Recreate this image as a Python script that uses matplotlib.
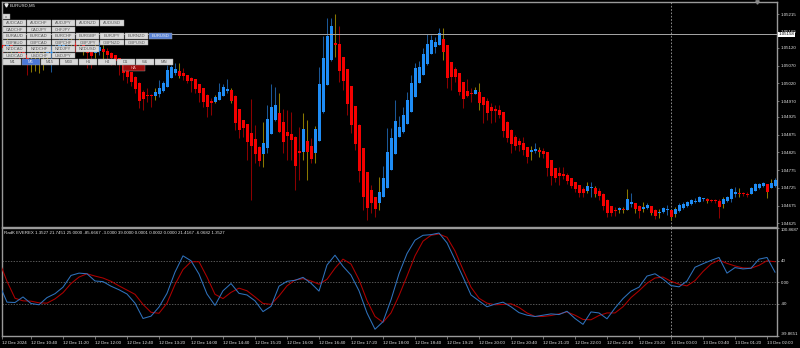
import numpy as np
import matplotlib
matplotlib.use('Agg')
import matplotlib.pyplot as plt
from matplotlib.patches import Rectangle
import matplotlib.transforms as mtransforms

plt.rcParams['font.family'] = ['Liberation Sans', 'DejaVu Sans']

# ---- Heiken Ashi candles, EURUSD M5 (bar 0 = 12 Dec 10:00) ----
ha_open_first = 1.05130
ha_close = [
    1.05128, 1.05119, 1.05131, 1.05114, 1.05108, 1.05100, 1.05091, 1.05086, 1.05097, 1.05091,
    1.05100, 1.05094, 1.05108, 1.05114, 1.05119, 1.05128, 1.05136, 1.05142, 1.05134, 1.05125,
    1.05131, 1.05119, 1.05106, 1.05097, 1.05114, 1.05122, 1.05108, 1.05100, 1.05091, 1.05083,
    1.05072, 1.05049, 1.05038, 1.05024, 1.05004, 1.04970, 1.04976, 1.04984, 1.04984, 1.04996,
    1.05007, 1.05021, 1.05058, 1.05066, 1.05060, 1.05041, 1.05041, 1.05027, 1.05027, 1.05004,
    1.04993, 1.04967, 1.04953, 1.04965, 1.04981, 1.04996, 1.05010, 1.05004, 1.04970, 1.04908,
    1.04888, 1.04894, 1.04855, 1.04843, 1.04821, 1.04801, 1.04852, 1.04919, 1.04953, 1.04959,
    1.04883, 1.04855, 1.04872, 1.04860, 1.04787, 1.04824, 1.04891, 1.04826, 1.04807, 1.04891,
    1.05018, 1.05091, 1.05154, 1.05182, 1.05128, 1.05055, 1.05027, 1.04962, 1.04903, 1.04849,
    1.04773, 1.04700, 1.04668, 1.04683, 1.04666, 1.04714, 1.04753, 1.04826, 1.04866, 1.04914,
    1.04897, 1.04931, 1.04973, 1.05021, 1.05063, 1.05066, 1.05103, 1.05131, 1.05142, 1.05136,
    1.05162, 1.05108, 1.05035, 1.05038, 1.05038, 1.04996, 1.04976, 1.04984, 1.04990, 1.05001,
    1.04965, 1.04959, 1.04936, 1.04942, 1.04942, 1.04931, 1.04886, 1.04866, 1.04849, 1.04843,
    1.04846, 1.04832, 1.04812, 1.04832, 1.04835, 1.04826, 1.04821, 1.04781, 1.04759, 1.04753,
    1.04759, 1.04759, 1.04745, 1.04731, 1.04722, 1.04711, 1.04711, 1.04731, 1.04725, 1.04708,
    1.04702, 1.04674, 1.04654, 1.04654, 1.04660, 1.04668, 1.04663, 1.04694, 1.04685, 1.04666,
    1.04660, 1.04671, 1.04677, 1.04654, 1.04646, 1.04657, 1.04668, 1.04663, 1.04643, 1.04666,
    1.04677, 1.04680, 1.04685, 1.04691, 1.04688, 1.04700, 1.04694, 1.04688, 1.04688, 1.04688,
    1.04671, 1.04694, 1.04700, 1.04722, 1.04714, 1.04708, 1.04708, 1.04705, 1.04725, 1.04736,
    1.04736, 1.04739, 1.04714, 1.04739, 1.04747,
]
ha_high = [
    1.05145, 1.05136, 1.05147, 1.05134, 1.05125, 1.05117, 1.05108, 1.05106, 1.05108, 1.05114,
    1.05117, 1.05111, 1.05122, 1.05128, 1.05136, 1.05145, 1.05153, 1.05159, 1.05150, 1.05142,
    1.05147, 1.05136, 1.05125, 1.05119, 1.05131, 1.05136, 1.05128, 1.05119, 1.05108, 1.05100,
    1.05091, 1.05063, 1.05058, 1.05052, 1.05041, 1.05024, 1.05001, 1.05007, 1.04990, 1.05007,
    1.05029, 1.05027, 1.05072, 1.05072, 1.05078, 1.05078, 1.05063, 1.05044, 1.05038, 1.05032,
    1.05015, 1.05007, 1.04990, 1.04979, 1.04987, 1.05021, 1.05018, 1.05032, 1.05007, 1.04987,
    1.04948, 1.04917, 1.04905, 1.04976, 1.04903, 1.04843, 1.04911, 1.04959, 1.05018, 1.05010,
    1.04993, 1.04948, 1.04945, 1.04939, 1.04872, 1.04897, 1.04936, 1.04917, 1.04866, 1.04900,
    1.05066, 1.05154, 1.05204, 1.05204, 1.05215, 1.05182, 1.05094, 1.05060, 1.05013, 1.04956,
    1.04905, 1.04838, 1.04770, 1.04733, 1.04700, 1.04756, 1.04787, 1.04894, 1.04894, 1.04973,
    1.04928, 1.04953, 1.04996, 1.05044, 1.05078, 1.05083, 1.05119, 1.05159, 1.05156, 1.05150,
    1.05176, 1.05176, 1.05125, 1.05080, 1.05066, 1.05049, 1.05024, 1.05032, 1.05007, 1.05010,
    1.05021, 1.04981, 1.04979, 1.04965, 1.04959, 1.04959, 1.04939, 1.04914, 1.04891, 1.04874,
    1.04866, 1.04869, 1.04840, 1.04843, 1.04852, 1.04840, 1.04838, 1.04826, 1.04804, 1.04781,
    1.04784, 1.04784, 1.04767, 1.04753, 1.04742, 1.04731, 1.04728, 1.04742, 1.04742, 1.04731,
    1.04725, 1.04711, 1.04694, 1.04674, 1.04671, 1.04671, 1.04671, 1.04722, 1.04711, 1.04683,
    1.04677, 1.04685, 1.04683, 1.04671, 1.04666, 1.04666, 1.04671, 1.04677, 1.04660, 1.04671,
    1.04683, 1.04685, 1.04688, 1.04694, 1.04697, 1.04702, 1.04697, 1.04697, 1.04694, 1.04694,
    1.04694, 1.04700, 1.04702, 1.04725, 1.04728, 1.04725, 1.04714, 1.04714, 1.04728, 1.04739,
    1.04739, 1.04742, 1.04733, 1.04750, 1.04753,
]
ha_low = [
    1.05114, 1.05106, 1.05108, 1.05100, 1.05091, 1.05083, 1.05075, 1.05044, 1.05052, 1.05055,
    1.05050, 1.05058, 1.05086, 1.05052, 1.05100, 1.05108, 1.05119, 1.05125, 1.05117, 1.05108,
    1.05114, 1.05100, 1.05063, 1.05063, 1.05091, 1.05100, 1.05078, 1.05086, 1.05072, 1.05072,
    1.05044, 1.05029, 1.05021, 1.05013, 1.04993, 1.04950, 1.04945, 1.04967, 1.04953, 1.04973,
    1.04981, 1.04996, 1.05010, 1.05035, 1.05044, 1.05035, 1.05029, 1.05021, 1.04996, 1.04993,
    1.04967, 1.04953, 1.04925, 1.04931, 1.04965, 1.04973, 1.04984, 1.04993, 1.04965, 1.04888,
    1.04866, 1.04869, 1.04804, 1.04691, 1.04795, 1.04787, 1.04784, 1.04824, 1.04877, 1.04914,
    1.04883, 1.04824, 1.04804, 1.04804, 1.04719, 1.04747, 1.04804, 1.04747, 1.04795, 1.04795,
    1.04857, 1.04936, 1.05015, 1.05083, 1.05094, 1.05024, 1.05001, 1.04931, 1.04880, 1.04832,
    1.04742, 1.04663, 1.04635, 1.04654, 1.04643, 1.04663, 1.04700, 1.04728, 1.04776, 1.04821,
    1.04869, 1.04880, 1.04905, 1.04939, 1.04981, 1.05021, 1.05044, 1.05072, 1.05103, 1.05106,
    1.05131, 1.05086, 1.05007, 1.05001, 1.05024, 1.04987, 1.04950, 1.04981, 1.04967, 1.04990,
    1.04945, 1.04908, 1.04917, 1.04908, 1.04911, 1.04922, 1.04869, 1.04855, 1.04824, 1.04832,
    1.04829, 1.04818, 1.04795, 1.04804, 1.04824, 1.04812, 1.04809, 1.04759, 1.04733, 1.04742,
    1.04733, 1.04750, 1.04736, 1.04725, 1.04714, 1.04700, 1.04700, 1.04711, 1.04700, 1.04700,
    1.04691, 1.04663, 1.04643, 1.04646, 1.04646, 1.04654, 1.04654, 1.04663, 1.04671, 1.04654,
    1.04640, 1.04657, 1.04666, 1.04649, 1.04637, 1.04640, 1.04654, 1.04649, 1.04635, 1.04643,
    1.04657, 1.04666, 1.04671, 1.04677, 1.04683, 1.04685, 1.04688, 1.04683, 1.04685, 1.04683,
    1.04640, 1.04668, 1.04685, 1.04685, 1.04700, 1.04700, 1.04702, 1.04700, 1.04708, 1.04719,
    1.04722, 1.04728, 1.04697, 1.04725, 1.04728,
]

price_ticks = [1.05215, 1.05165, 1.05120, 1.05070, 1.05020, 1.04970, 1.04925,
               1.04875, 1.04825, 1.04775, 1.04725, 1.04675, 1.04625]
price_range = (1.04615, 1.05249)
line_price = 1.05158

time_labels = ['12 Dec 2024', '12 Dec 10:40', '12 Dec 11:20', '12 Dec 12:00', '12 Dec 12:40',
               '12 Dec 13:20', '12 Dec 14:00', '12 Dec 14:40', '12 Dec 15:20', '12 Dec 16:00',
               '12 Dec 16:40', '12 Dec 17:20', '12 Dec 18:00', '12 Dec 18:40', '12 Dec 19:20',
               '12 Dec 20:00', '12 Dec 20:40', '12 Dec 21:20', '12 Dec 22:00', '12 Dec 22:40',
               '12 Dec 23:20', '13 Dec 00:00', '13 Dec 00:40', '13 Dec 01:20', '13 Dec 02:00']
label_step = 8

# ---- RadK EVEREX oscillator, read every 2 bars ----
osc_step = 2
osc_blue = [
    -2.4, -37.0, -37.6, -27.3, -39.4, -41.8, -28.5, -21.2, -9.1, 12.7,
    17.0, 15.8, 2.4, 1.2, -7.3, -13.9, -21.8, -38.8, -67.3, -63.0,
    -46.1, -20.6, 18.8, 49.1, 40.0, 15.2, -21.8, -43.0, -15.8, -2.4,
    -20.6, -23.6, -34.5, -54.5, -44.8, -7.3, 1.8, 3.6, 9.1, -1.8,
    -16.4, 32.1, 50.3, 29.7, 13.3, -15.8, -57.0, -87.3, -73.3, -32.7,
    15.8, 53.3, 78.2, 87.3, 88.5, 91.5, 73.3, 41.8, 9.7, -23.6,
    -34.5, -45.5, -40.6, -37.0, -45.5, -56.4, -61.2, -63.6, -61.2, -58.8,
    -60.0, -53.9, -67.3, -78.2, -55.1, -57.0, -67.9, -47.9, -30.3, -16.4,
    -9.1, 11.5, 15.8, 6.1, -6.1, -8.5, 2.4, 27.9, 34.5, 40.6,
    46.1, 17.0, 27.3, 24.8, 26.1, 43.0, 46.1, 18.8,
]
osc_red = [
    40.0, 1.8, -29.7, -34.5, -35.1, -38.2, -38.8, -30.9, -19.4, -2.4,
    9.7, 15.8, 11.5, 7.9, 1.8, -6.7, -14.5, -22.4, -41.2, -55.8,
    -57.6, -38.8, -4.2, 23.6, 38.2, 38.2, 9.7, -22.4, -30.3, -18.8,
    -10.9, -15.8, -27.3, -39.4, -41.2, -25.5, -6.7, 4.2, 6.7, 2.4,
    -3.6, 5.5, 26.1, 43.0, 33.9, 4.8, -33.9, -63.6, -74.5, -57.0,
    -24.8, 11.5, 49.1, 76.4, 87.3, 89.7, 83.6, 58.2, 23.6, -9.1,
    -29.7, -38.8, -41.8, -41.2, -40.0, -46.7, -57.0, -63.6, -63.6, -61.8,
    -58.8, -55.1, -61.2, -69.1, -69.7, -61.8, -57.0, -57.0, -45.5, -28.5,
    -15.8, -1.8, 7.9, 9.7, 1.8, -3.6, -6.7, 3.0, 20.0, 33.9,
    41.2, 35.1, 30.3, 26.7, 26.1, 31.5, 40.0, 38.2,
]
osc_min, osc_max = -99.8651, 100.8687
osc_levels = [40, 0, -40]
osc_header = ('RadK EVEREX 1.3527 21.7451 25.0000 -85.6667 -3.0000 39.0000 '
              '0.0001 0.0002 0.0000 21.4167 -6.0682 1.3527')

symbol_rows = [
    ['AUDCAD', 'AUDCHF', 'AUDJPY', 'AUDNZD', 'AUDUSD'],
    ['CADCHF', 'CADJPY', 'CHFJPY'],
    ['EURAUD', 'EURCAD', 'EURCHF', 'EURGBP', 'EURJPY', 'EURNZD', 'EURUSD'],
    ['GBPAUD', 'GBPCAD', 'GBPCHF', 'GBPJPY', 'GBPNZD', 'GBPUSD'],
    ['NZDCAD', 'NZDCHF', 'NZDJPY', 'NZDUSD'],
    ['USDCAD', 'USDCHF', 'USDJPY'],
]
timeframes = ['M1', 'M5', 'M15', 'M30', 'H1', 'H4', 'D1', 'W1', 'MN']
active_symbol, active_tf = 'EURUSD', 'M5'

# ---- derived HA opens ----
c = np.array(ha_close)
n = len(c)
o = np.empty(n)
o[0] = ha_open_first
for i in range(1, n):
    o[i] = (o[i - 1] + c[i - 1]) / 2
hi = np.maximum(np.array(ha_high), np.maximum(o, c))
lo = np.minimum(np.array(ha_low), np.minimum(o, c))
bars = np.arange(n)

UP, DN = '#1e8cf5', '#f50000'
W_UP, W_DN, W_TURN = '#1b5796', '#8c0000', '#8a7800'
FG = '#e6e6e6'
FRAME = '#9a9a9a'
FS = 3.2

bull = c >= o
body_col = np.where(bull, UP, DN)
wick_col = np.where(bull, W_UP, W_DN).astype(object)
turn = np.r_[False, bull[1:] != bull[:-1]]
wick_col[turn] = W_TURN

fig = plt.figure(figsize=(8, 3.48), dpi=100, facecolor='black')
ax = fig.add_axes([2 / 800, 1 - 227 / 348, 775 / 800, 225 / 348])
ax2 = fig.add_axes([2 / 800, 12 / 348, 775 / 800, 108 / 348])
xlim = (0.75, 194.5)

for a in (ax, ax2):
    a.set_facecolor('black')
    a.set_xlim(*xlim)
    for s in a.spines.values():
        s.set_color(FRAME)
        s.set_linewidth(1.0)
    a.yaxis.tick_right()
    a.tick_params(axis='y', colors=FRAME, labelcolor=FG, labelsize=FS, length=1.5, width=0.5, pad=1)

# candles
px_price = (price_range[1] - price_range[0]) / 225
ax.vlines(bars, lo, hi, colors=list(wick_col), linewidth=0.75, zorder=2)
body_h = np.maximum(np.abs(c - o), px_price)
ax.bar(bars, body_h, bottom=np.minimum(o, c), width=0.75, color=body_col, linewidth=0, zorder=3)
ax.set_ylim(*price_range)
ax.set_xticks([])
ax.set_yticks(price_ticks)
ax.set_yticklabels(['%.5f' % p for p in price_ticks])
ax.axhline(line_price, color='#a8a8a8', linewidth=0.7, zorder=4)
trans = mtransforms.blended_transform_factory(ax.transAxes, ax.transData)
ax.text(1.002, line_price, '%.5f' % line_price, transform=trans, fontsize=FS, color='black',
        va='center', ha='left', zorder=6,
        bbox=dict(boxstyle='square,pad=0.12', fc='white', ec='none'))

# separator at day change
label_bars = np.arange(len(time_labels)) * label_step
sep_bar = label_bars[time_labels.index('13 Dec 00:00')]
for a in (ax, ax2):
    a.axvline(sep_bar, color='#a0a0a0', linewidth=0.6, linestyle=(0, (2, 2)), zorder=1)

# oscillator
osc_x = np.arange(len(osc_blue)) * osc_step
for lv in osc_levels:
    ax2.axhline(lv, color='#7a7a7a', linewidth=0.5, linestyle=(0, (2, 2)), zorder=1)
ax2.plot(osc_x, osc_red, color='#b00000', linewidth=0.75, zorder=3)
ax2.plot(osc_x, osc_blue, color='#2f72bd', linewidth=0.75, zorder=4)
ax2.set_ylim(osc_min, osc_max)
ax2.set_yticks([osc_max] + osc_levels + [osc_min])
ylabs = ax2.set_yticklabels(['%.4f' % osc_max, '40', '0.00', '-40', '%.4f' % osc_min])
ylabs[0].set_va('top')
ylabs[-1].set_va('bottom')
ax2.text(0.002, 0.975, osc_header, transform=ax2.transAxes, fontsize=FS, color=FG,
         va='top', ha='left')

ax2.set_xticks(np.maximum(label_bars, xlim[0]))
xl = ax2.set_xticklabels(time_labels)
for t in xl:
    t.set_ha('left')
ax2.tick_params(axis='x', colors=FRAME, labelcolor=FG, labelsize=FS, length=2, width=0.5, pad=1.5)

# ---- terminal overlay: title and symbol buttons (pixel coords) ----
ui = fig.add_axes([0, 0, 1, 1], zorder=10)
ui.set_xlim(0, 800)
ui.set_ylim(348, 0)
ui.axis('off')
ui.patch.set_alpha(0)

ui.plot(5.5, 5.2, marker='v', markersize=2.2, color=FG, linestyle='none')
ui.text(9.5, 5.2, 'EURUSD,M5', fontsize=FS, color=FG, va='center', ha='left')
ui.plot(757, 2.2, marker='v', markersize=2.4, color='#8a8a8a', linestyle='none')


def button(x, y, w, h, label, fc='#d9d9d9', tc='#555555'):
    ui.add_patch(Rectangle((x, y), w, h, facecolor=fc, edgecolor='#9c9c9c', linewidth=0.3))
    ui.text(x + w / 2, y + h / 2 + 0.2, label, fontsize=3.0, color=tc, ha='center', va='center')


button(3, 13.8, 6.5, 5.5, 'x')
row_y = 20.0
for row in symbol_rows:
    for k, sym in enumerate(row):
        if sym == active_symbol:
            button(3 + k * 24.3, row_y, 23.4, 5.9, sym, fc='#5b84d6', tc='#f0f0f0')
        else:
            button(3 + k * 24.3, row_y, 23.4, 5.9, sym)
    row_y += 6.5
for k, tf in enumerate(timeframes):
    if tf == active_tf:
        button(3 + k * 18.95, row_y, 18.1, 5.9, tf, fc='#4b78d8', tc='#f0f0f0')
    else:
        button(3 + k * 18.95, row_y, 18.1, 5.9, tf)
button(122.8, row_y + 6.0, 22.2, 6.4, 'HA', fc='#9e0d0d', tc='#f3b0b0')

fig.savefig('out.png', dpi=100, facecolor='black')
